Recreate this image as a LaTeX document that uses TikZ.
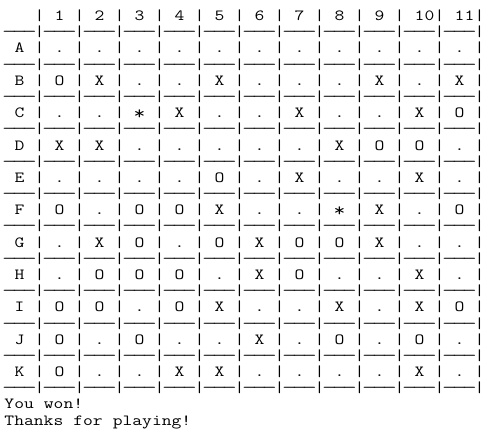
\documentclass[tikz,border=0pt]{standalone}
\usepackage{graphicx}
\usepackage{fontspec}
\newfontfamily\gCons{Latin Modern Mono}[FakeStretch=1.22888]
\newcommand\gSpc{\hbox to 10pt{\hss}}
\newcommand\gCh[1]{\hbox to 10pt{\hss#1\hss}}
\newcommand\gCl[1]{\gSpc\gCh{#1}\gSpc\gCh{|}}
\newcommand\gStar{\raisebox{-1.8pt}{\scalebox{1.2}{*}}}
\newcommand\gHy{\gCh{\scalebox{1.5}[1]{-}}}
\newcommand\gDsh{\gHy\gHy\gHy\gCh{|}}
\newcommand\gSep{\gDsh\gDsh\gDsh\gDsh\gDsh\gDsh\gDsh\gDsh\gDsh\gDsh\gDsh\gDsh}
\newcommand\gLy[1]{(4.5,{418.4-16.18*#1})}
\begin{document}
\begin{tikzpicture}[x=1pt,y=1pt,
  txt/.style={anchor=base west, inner sep=0pt, outer sep=0pt,
    font=\gCons\fontsize{15.5}{16.18}\selectfont, text=black}]
\fill[white] (0,0) rectangle (492,439);
\useasboundingbox (0,0) rectangle (492,439);
\node[txt] (l0) at \gLy{0} {\gSpc\gSpc\gSpc\gCh{|}\gCl{1}\gCl{2}\gCl{3}\gCl{4}\gCl{5}\gCl{6}\gCl{7}\gCl{8}\gCl{9}\gSpc\gCh{1}\gCh{0}\gCh{|}\gSpc\gCh{1}\gCh{1}\gCh{|}};
\node[txt] (l1) at \gLy{1} {\gSep};
\node[txt] (l2) at \gLy{2} {\gCl{A}\gCl{.}\gCl{.}\gCl{.}\gCl{.}\gCl{.}\gCl{.}\gCl{.}\gCl{.}\gCl{.}\gCl{.}\gCl{.}};
\node[txt] (l3) at \gLy{3} {\gSep};
\node[txt] (l4) at \gLy{4} {\gCl{B}\gCl{O}\gCl{X}\gCl{.}\gCl{.}\gCl{X}\gCl{.}\gCl{.}\gCl{.}\gCl{X}\gCl{.}\gCl{X}};
\node[txt] (l5) at \gLy{5} {\gSep};
\node[txt] (l6) at \gLy{6} {\gCl{C}\gCl{.}\gCl{.}\gCl{\gStar}\gCl{X}\gCl{.}\gCl{.}\gCl{X}\gCl{.}\gCl{.}\gCl{X}\gCl{O}};
\node[txt] (l7) at \gLy{7} {\gSep};
\node[txt] (l8) at \gLy{8} {\gCl{D}\gCl{X}\gCl{X}\gCl{.}\gCl{.}\gCl{.}\gCl{.}\gCl{.}\gCl{X}\gCl{O}\gCl{O}\gCl{.}};
\node[txt] (l9) at \gLy{9} {\gSep};
\node[txt] (l10) at \gLy{10} {\gCl{E}\gCl{.}\gCl{.}\gCl{.}\gCl{.}\gCl{O}\gCl{.}\gCl{X}\gCl{.}\gCl{.}\gCl{X}\gCl{.}};
\node[txt] (l11) at \gLy{11} {\gSep};
\node[txt] (l12) at \gLy{12} {\gCl{F}\gCl{O}\gCl{.}\gCl{O}\gCl{O}\gCl{X}\gCl{.}\gCl{.}\gCl{\gStar}\gCl{X}\gCl{.}\gCl{O}};
\node[txt] (l13) at \gLy{13} {\gSep};
\node[txt] (l14) at \gLy{14} {\gCl{G}\gCl{.}\gCl{X}\gCl{O}\gCl{.}\gCl{O}\gCl{X}\gCl{O}\gCl{O}\gCl{X}\gCl{.}\gCl{.}};
\node[txt] (l15) at \gLy{15} {\gSep};
\node[txt] (l16) at \gLy{16} {\gCl{H}\gCl{.}\gCl{O}\gCl{O}\gCl{O}\gCl{.}\gCl{X}\gCl{O}\gCl{.}\gCl{.}\gCl{X}\gCl{.}};
\node[txt] (l17) at \gLy{17} {\gSep};
\node[txt] (l18) at \gLy{18} {\gCl{I}\gCl{O}\gCl{O}\gCl{.}\gCl{O}\gCl{X}\gCl{.}\gCl{.}\gCl{X}\gCl{.}\gCl{X}\gCl{O}};
\node[txt] (l19) at \gLy{19} {\gSep};
\node[txt] (l20) at \gLy{20} {\gCl{J}\gCl{O}\gCl{.}\gCl{O}\gCl{.}\gCl{.}\gCl{X}\gCl{.}\gCl{O}\gCl{.}\gCl{O}\gCl{.}};
\node[txt] (l21) at \gLy{21} {\gSep};
\node[txt] (l22) at \gLy{22} {\gCl{K}\gCl{O}\gCl{.}\gCl{.}\gCl{X}\gCl{X}\gCl{.}\gCl{.}\gCl{.}\gCl{.}\gCl{X}\gCl{.}};
\node[txt] (l23) at \gLy{23} {\gSep};
\node[txt] (l24) at \gLy{24} {You\gSpc won!};
\node[txt] (l25) at \gLy{25} {Thanks\gSpc for\gSpc playing!};
\end{tikzpicture}
\end{document}
